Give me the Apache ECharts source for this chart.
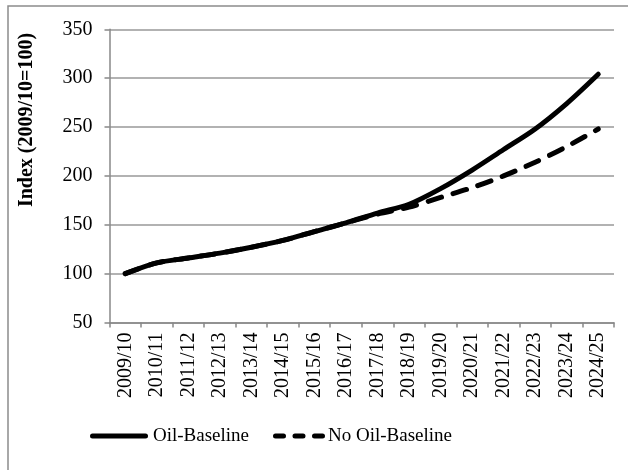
<!DOCTYPE html>
<html>
<head>
<meta charset="utf-8">
<script src="https://cdn.jsdelivr.net/npm/echarts@6/dist/echarts.min.js"></script>
<style>html,body{margin:0;padding:0;background:#fff;}#c{width:628px;height:470px;}</style>
</head>
<body>
<div id="c"></div>
<script>
var categories = ['2009/10','2010/11','2011/12','2012/13','2013/14','2014/15','2015/16','2016/17','2017/18','2018/19','2019/20','2020/21','2021/22','2022/23','2023/24','2024/25'];
var oilBaseline = [100,111,116,121,127,134,143,152,162,171,187,206,227,248,274,304];
var noOilBaseline = [100,111,116,121,127,134,143,152,161,168,178,188,200,214,230,248];
var yTicks = {min: 50, max: 350, interval: 50};
var yAxisTitle = 'Index (2009/10=100)';
var seriesNames = ['Oil-Baseline', 'No Oil-Baseline'];

var FONT = 'Liberation Serif';
var chart = echarts.init(document.getElementById('c'), null, {renderer: 'canvas'});
var legendY = 436;
chart.setOption({
  animation: false,
  backgroundColor: '#fff',
  grid: {left: 109.5, right: 14, top: 29.3, bottom: 147.5, containLabel: false},
  graphic: [
    {type: 'rect', shape: {x: 8, y: 6, width: 700, height: 600}, style: {fill: 'none', stroke: '#8c8c8c', lineWidth: 1.5}, silent: true},
    {type: 'text', x: 27, y: 120, rotation: Math.PI / 2,
      style: {text: yAxisTitle, font: 'bold 20px "' + FONT + '"', fill: '#000', align: 'center', verticalAlign: 'middle'}},
    {type: 'line', shape: {x1: 92.5, y1: legendY, x2: 145.5, y2: legendY},
      style: {stroke: '#000', lineWidth: 5, lineCap: 'round'}},
    {type: 'text', x: 153, y: legendY,
      style: {text: seriesNames[0], font: '19px "' + FONT + '"', fill: '#000', align: 'left', verticalAlign: 'middle'}},
    {type: 'line', shape: {x1: 275.5, y1: legendY, x2: 322.5, y2: legendY},
      style: {stroke: '#000', lineWidth: 5, lineCap: 'round', lineDash: [8, 11.5]}},
    {type: 'text', x: 328, y: legendY,
      style: {text: seriesNames[1], font: '19px "' + FONT + '"', fill: '#000', align: 'left', verticalAlign: 'middle'}}
  ],
  xAxis: {
    type: 'category', data: categories, boundaryGap: true,
    axisLine: {lineStyle: {color: '#888', width: 1.5}},
    axisTick: {show: true, length: 5, lineStyle: {color: '#888', width: 1.5}},
    axisLabel: {rotate: 90, interval: 0, margin: 10, fontFamily: FONT, fontSize: 20, color: '#000'},
    splitLine: {show: false}
  },
  yAxis: {
    type: 'value', min: yTicks.min, max: yTicks.max, interval: yTicks.interval,
    axisLine: {show: true, lineStyle: {color: '#888', width: 1.5}},
    axisTick: {show: true, length: 5, lineStyle: {color: '#888', width: 1.5}},
    axisLabel: {margin: 17, fontFamily: FONT, fontSize: 20, color: '#000'},
    splitLine: {show: true, lineStyle: {color: '#999', width: 1.5}}
  },
  series: [
    {name: seriesNames[0], type: 'line', data: oilBaseline, symbol: 'none', smooth: 0.3,
      lineStyle: {color: '#000', width: 5, cap: 'round', join: 'round'}, itemStyle: {color: '#000'}, z: 3},
    {name: seriesNames[1], type: 'line', data: noOilBaseline, symbol: 'none', smooth: 0.3,
      lineStyle: {color: '#000', width: 5, type: [14, 12], cap: 'round', join: 'round'}, itemStyle: {color: '#000'}, z: 4}
  ]
});
</script>
</body>
</html>
